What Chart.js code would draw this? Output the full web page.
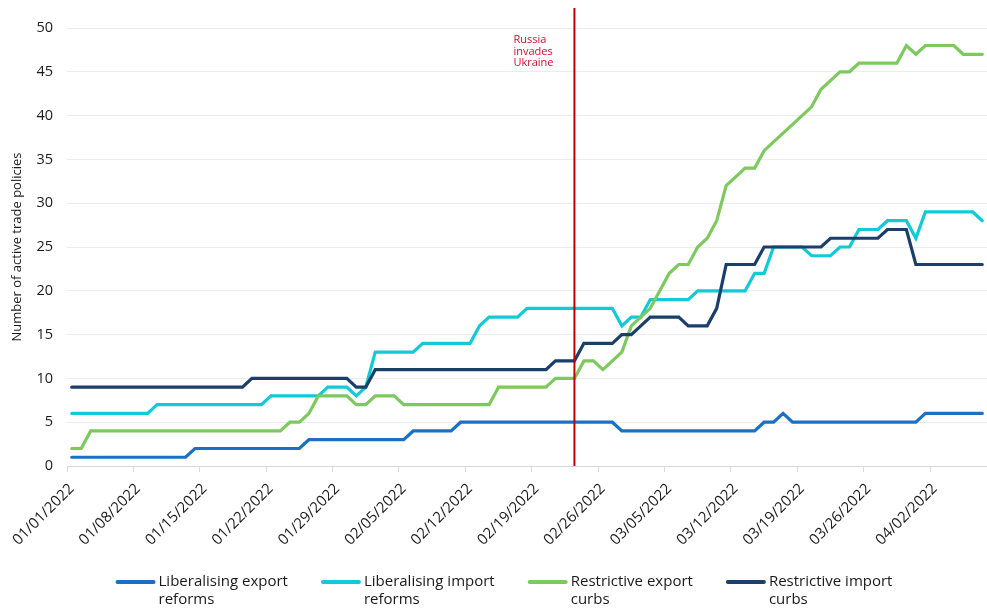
<!DOCTYPE html>
<html>
<head>
<meta charset="utf-8">
<script src="https://cdn.jsdelivr.net/npm/chart.js@4.4.1/dist/chart.umd.min.js"></script>
<style>
  html, body { margin: 0; padding: 0; background: #fff; }
  #wrap { width: 987px; height: 608px; position: relative; }
</style>
</head>
<body>
<div id="wrap"><canvas id="myChart"></canvas></div>
<script>
// one row per week
const dates = [
    '01/01/2022', '01/02/2022', '01/03/2022', '01/04/2022', '01/05/2022', '01/06/2022', '01/07/2022',
    '01/08/2022', '01/09/2022', '01/10/2022', '01/11/2022', '01/12/2022', '01/13/2022', '01/14/2022',
    '01/15/2022', '01/16/2022', '01/17/2022', '01/18/2022', '01/19/2022', '01/20/2022', '01/21/2022',
    '01/22/2022', '01/23/2022', '01/24/2022', '01/25/2022', '01/26/2022', '01/27/2022', '01/28/2022',
    '01/29/2022', '01/30/2022', '01/31/2022', '02/01/2022', '02/02/2022', '02/03/2022', '02/04/2022',
    '02/05/2022', '02/06/2022', '02/07/2022', '02/08/2022', '02/09/2022', '02/10/2022', '02/11/2022',
    '02/12/2022', '02/13/2022', '02/14/2022', '02/15/2022', '02/16/2022', '02/17/2022', '02/18/2022',
    '02/19/2022', '02/20/2022', '02/21/2022', '02/22/2022', '02/23/2022', '02/24/2022', '02/25/2022',
    '02/26/2022', '02/27/2022', '02/28/2022', '03/01/2022', '03/02/2022', '03/03/2022', '03/04/2022',
    '03/05/2022', '03/06/2022', '03/07/2022', '03/08/2022', '03/09/2022', '03/10/2022', '03/11/2022',
    '03/12/2022', '03/13/2022', '03/14/2022', '03/15/2022', '03/16/2022', '03/17/2022', '03/18/2022',
    '03/19/2022', '03/20/2022', '03/21/2022', '03/22/2022', '03/23/2022', '03/24/2022', '03/25/2022',
    '03/26/2022', '03/27/2022', '03/28/2022', '03/29/2022', '03/30/2022', '03/31/2022', '04/01/2022',
    '04/02/2022', '04/03/2022', '04/04/2022', '04/05/2022', '04/06/2022', '04/07/2022'
];

const liberalisingExport = [
    1, 1, 1, 1, 1, 1, 1,
    1, 1, 1, 1, 1, 1, 2,
    2, 2, 2, 2, 2, 2, 2,
    2, 2, 2, 2, 3, 3, 3,
    3, 3, 3, 3, 3, 3, 3,
    3, 4, 4, 4, 4, 4, 5,
    5, 5, 5, 5, 5, 5, 5,
    5, 5, 5, 5, 5, 5, 5,
    5, 5, 4, 4, 4, 4, 4,
    4, 4, 4, 4, 4, 4, 4,
    4, 4, 4, 5, 5, 6, 5,
    5, 5, 5, 5, 5, 5, 5,
    5, 5, 5, 5, 5, 5, 6,
    6, 6, 6, 6, 6, 6
];

const liberalisingImport = [
    6, 6, 6, 6, 6, 6, 6,
    6, 6, 7, 7, 7, 7, 7,
    7, 7, 7, 7, 7, 7, 7,
    8, 8, 8, 8, 8, 8, 9,
    9, 9, 8, 9, 13, 13, 13,
    13, 13, 14, 14, 14, 14, 14,
    14, 16, 17, 17, 17, 17, 18,
    18, 18, 18, 18, 18, 18, 18,
    18, 18, 16, 17, 17, 19, 19,
    19, 19, 19, 20, 20, 20, 20,
    20, 20, 22, 22, 25, 25, 25,
    25, 24, 24, 24, 25, 25, 27,
    27, 27, 28, 28, 28, 26, 29,
    29, 29, 29, 29, 29, 28
];

const restrictiveExport = [
    2, 2, 4, 4, 4, 4, 4,
    4, 4, 4, 4, 4, 4, 4,
    4, 4, 4, 4, 4, 4, 4,
    4, 4, 5, 5, 6, 8, 8,
    8, 8, 7, 7, 8, 8, 8,
    7, 7, 7, 7, 7, 7, 7,
    7, 7, 7, 9, 9, 9, 9,
    9, 9, 10, 10, 10, 12, 12,
    11, 12, 13, 16, 17, 18, 20,
    22, 23, 23, 25, 26, 28, 32,
    33, 34, 34, 36, 37, 38, 39,
    40, 41, 43, 44, 45, 45, 46,
    46, 46, 46, 46, 48, 47, 48,
    48, 48, 48, 47, 47, 47
];

const restrictiveImport = [
    9, 9, 9, 9, 9, 9, 9,
    9, 9, 9, 9, 9, 9, 9,
    9, 9, 9, 9, 9, 10, 10,
    10, 10, 10, 10, 10, 10, 10,
    10, 10, 9, 9, 11, 11, 11,
    11, 11, 11, 11, 11, 11, 11,
    11, 11, 11, 11, 11, 11, 11,
    11, 11, 12, 12, 12, 14, 14,
    14, 14, 15, 15, 16, 17, 17,
    17, 17, 16, 16, 16, 18, 23,
    23, 23, 23, 25, 25, 25, 25,
    25, 25, 25, 26, 26, 26, 26,
    26, 26, 27, 27, 27, 23, 23,
    23, 23, 23, 23, 23, 23
];

const seriesNames = [
    ['Liberalising export', 'reforms'],
    ['Liberalising import', 'reforms'],
    ['Restrictive export', 'curbs'],
    ['Restrictive import', 'curbs']
];
const seriesColors = ['#1a70c6', '#12cad7', '#7dc95e', '#1b3f6b'];
const seriesValues = [liberalisingExport, liberalisingImport, restrictiveExport, restrictiveImport];

const invasionDate = '02/23/2022';
const invasionText = ['Russia', 'invades', 'Ukraine'];

const fontFamily = '"Open Sans", Lato, sans-serif';
const textColor = '#1a1a1a';

const invasionLine = {
    id: 'invasionLine',
    afterDatasetsDraw(chart) {
        const ctx = chart.ctx;
        const x = chart.scales.x.getPixelForValue(dates.indexOf(invasionDate));
        ctx.save();
        ctx.strokeStyle = '#c00000';
        ctx.lineWidth = 2;
        ctx.beginPath();
        ctx.moveTo(x, 8);
        ctx.lineTo(x, chart.chartArea.bottom);
        ctx.stroke();
        ctx.fillStyle = '#c8102e';
        ctx.font = '11px ' + fontFamily;
        ctx.textAlign = 'left';
        ctx.textBaseline = 'middle';
        invasionText.forEach((line, i) => {
            ctx.fillText(line, x - 61, 40 + i * 11.5);
        });
        ctx.restore();
    }
};

const bottomLegend = {
    id: 'bottomLegend',
    afterDraw(chart) {
        const ctx = chart.ctx;
        ctx.save();
        ctx.font = '15px ' + fontFamily;
        const sample = 40, textGap = 3, itemGap = 33;
        const widths = seriesNames.map(lines => Math.max(...lines.map(l => ctx.measureText(l).width)));
        const total = widths.reduce((acc, w) => acc + sample + textGap + w, 0) + itemGap * (widths.length - 1);
        let x = 504 - total / 2;
        const y = 582;
        seriesNames.forEach((lines, i) => {
            ctx.strokeStyle = seriesColors[i];
            ctx.lineWidth = 4;
            ctx.lineCap = 'round';
            ctx.beginPath();
            ctx.moveTo(x + 2, y);
            ctx.lineTo(x + sample - 2, y);
            ctx.stroke();
            ctx.fillStyle = textColor;
            ctx.textAlign = 'left';
            ctx.textBaseline = 'middle';
            lines.forEach((line, j) => {
                ctx.fillText(line, x + sample + textGap, y + j * 18);
            });
            x += sample + textGap + widths[i] + itemGap;
        });
        ctx.restore();
    }
};

var ctx = document.getElementById('myChart').getContext('2d');
var chart = new Chart(ctx, {
    type: 'line',
    data: {
        labels: dates,
        datasets: seriesValues.map((values, i) => ({
            label: seriesNames[i].join(' '),
            data: values,
            borderColor: seriesColors[i],
            backgroundColor: seriesColors[i],
            borderWidth: 3.2,
            borderCapStyle: 'round',
            pointRadius: 0,
            tension: 0,
            fill: false,
            order: seriesValues.length - i
        }))
    },
    options: {
        responsive: true,
        maintainAspectRatio: false,
        animation: false,
        devicePixelRatio: 1,
        layout: { padding: { top: 28, right: 0, bottom: 0, left: 0 } },
        plugins: {
            legend: { display: false },
            tooltip: { enabled: false }
        },
        scales: {
            x: {
                type: 'category',
                offset: true,
                grid: {
                    offset: true,
                    drawOnChartArea: false,
                    drawTicks: true,
                    tickLength: 6,
                    color: c => (c.index % 7 === 0 ? '#d9d9d9' : 'rgba(0,0,0,0)')
                },
                border: { display: true, color: '#d9d9d9', width: 1 },
                ticks: {
                    autoSkip: false,
                    minRotation: 45,
                    maxRotation: 45,
                    padding: 8,
                    color: textColor,
                    font: { family: fontFamily, size: 15 },
                    callback: function(value, index) {
                        return index % 7 === 0 ? this.getLabelForValue(value) : '';
                    }
                },
                afterFit: scale => {
                    scale.height = 608 - 466;
                    scale.paddingLeft = 0;
                    scale.paddingRight = 0;
                }
            },
            y: {
                min: 0,
                max: 50,
                ticks: {
                    stepSize: 5,
                    padding: 14,
                    color: textColor,
                    font: { family: fontFamily, size: 14.5 }
                },
                grid: { color: '#ececec', drawTicks: false },
                border: { display: false },
                title: {
                    display: true,
                    text: 'Number of active trade policies',
                    color: textColor,
                    font: { family: fontFamily, size: 13 },
                    padding: { top: 9, bottom: 0 }
                },
                afterFit: scale => { scale.width = 67; }
            }
        }
    },
    plugins: [invasionLine, bottomLegend]
});
</script>
</body>
</html>
